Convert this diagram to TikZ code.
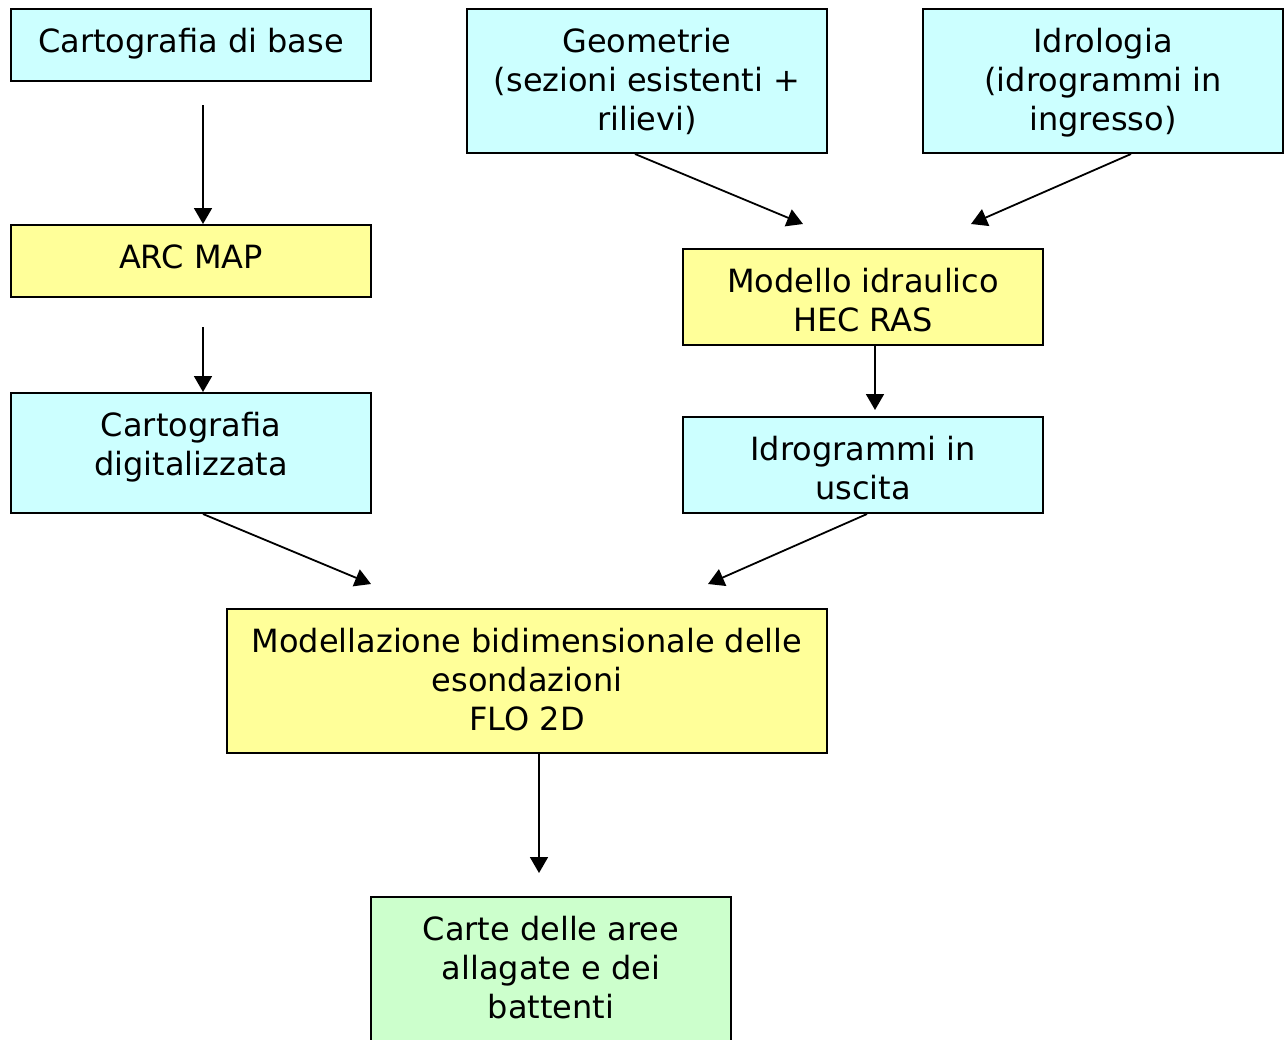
\documentclass[tikz,border=0pt]{standalone}
\usepackage{fontspec}
\setmainfont{DejaVu Sans}
\usetikzlibrary{arrows.meta}
\definecolor{cyanbox}{HTML}{CCFFFF}
\definecolor{yellowbox}{HTML}{FFFF99}
\definecolor{greenbox}{HTML}{CCFFCC}
\newcommand{\boxtext}[3]{\parbox[c][#2][t]{#1}{\centering\rule{0pt}{21.5pt}#3}}
\tikzset{
  box/.style={draw=black, line width=1pt, inner sep=0pt,
    font=\fontsize{16}{19.5}\selectfont},
  cbox/.style={box, fill=cyanbox},
  ybox/.style={box, fill=yellowbox},
  gbox/.style={box, fill=greenbox},
  arr/.style={line width=0.9pt, -{Triangle[length=8pt,width=9pt]}}
}
\begin{document}
\begin{tikzpicture}[x=0.5pt,y=-0.5pt]
\useasboundingbox (0,0) rectangle (1285,1039);
% boxes: center in px, size in pt
\node[cbox] (carto) at (191,45) {\boxtext{180pt}{36pt}{Cartografia di base}};
\node[cbox] (geom) at (647,81) {\boxtext{180pt}{72pt}{Geometrie\\(sezioni esistenti +\\rilievi)}};
\node[cbox] (idro) at (1103,81) {\boxtext{180pt}{72pt}{Idrologia\\(idrogrammi in\\ingresso)}};
\node[ybox] (arc) at (191,261) {\boxtext{180pt}{36pt}{ARC MAP}};
\node[ybox] (hec) at (863,297) {\boxtext{180pt}{48pt}{Modello idraulico\\HEC RAS}};
\node[cbox] (dig) at (191,453) {\boxtext{180pt}{60pt}{Cartografia\\digitalizzata}};
\node[cbox] (usc) at (863,465) {\boxtext{180pt}{48pt}{Idrogrammi in\\uscita}};
\node[ybox] (flo) at (527,681) {\boxtext{300pt}{72pt}{Modellazione bidimensionale delle\\esondazioni\\FLO 2D}};
\node[gbox] (carte) at (551,969) {\boxtext{180pt}{72pt}{Carte delle aree\\allagate e dei\\battenti}};
% free ends
\coordinate (a1s) at (203,105);
\coordinate (a2s) at (203,327);
\coordinate (a3e) at (803,224);
\coordinate (a4e) at (971,224);
\coordinate (a5e) at (875,410);
\coordinate (a6e) at (371,584);
\coordinate (a7e) at (708,584);
\coordinate (a8e) at (539,873);
% arrows
\draw[arr] (a1s) -- (a1s |- arc.north);
\draw[arr] (a2s) -- (a2s |- dig.north);
\draw[arr] (geom.south -| 635,0) -- (a3e);
\draw[arr] (idro.south -| 1131,0) -- (a4e);
\draw[arr] (hec.south -| a5e) -- (a5e);
\draw[arr] (dig.south -| 203,0) -- (a6e);
\draw[arr] (usc.south -| 867,0) -- (a7e);
\draw[arr] (flo.south -| a8e) -- (a8e);
\end{tikzpicture}
\end{document}
